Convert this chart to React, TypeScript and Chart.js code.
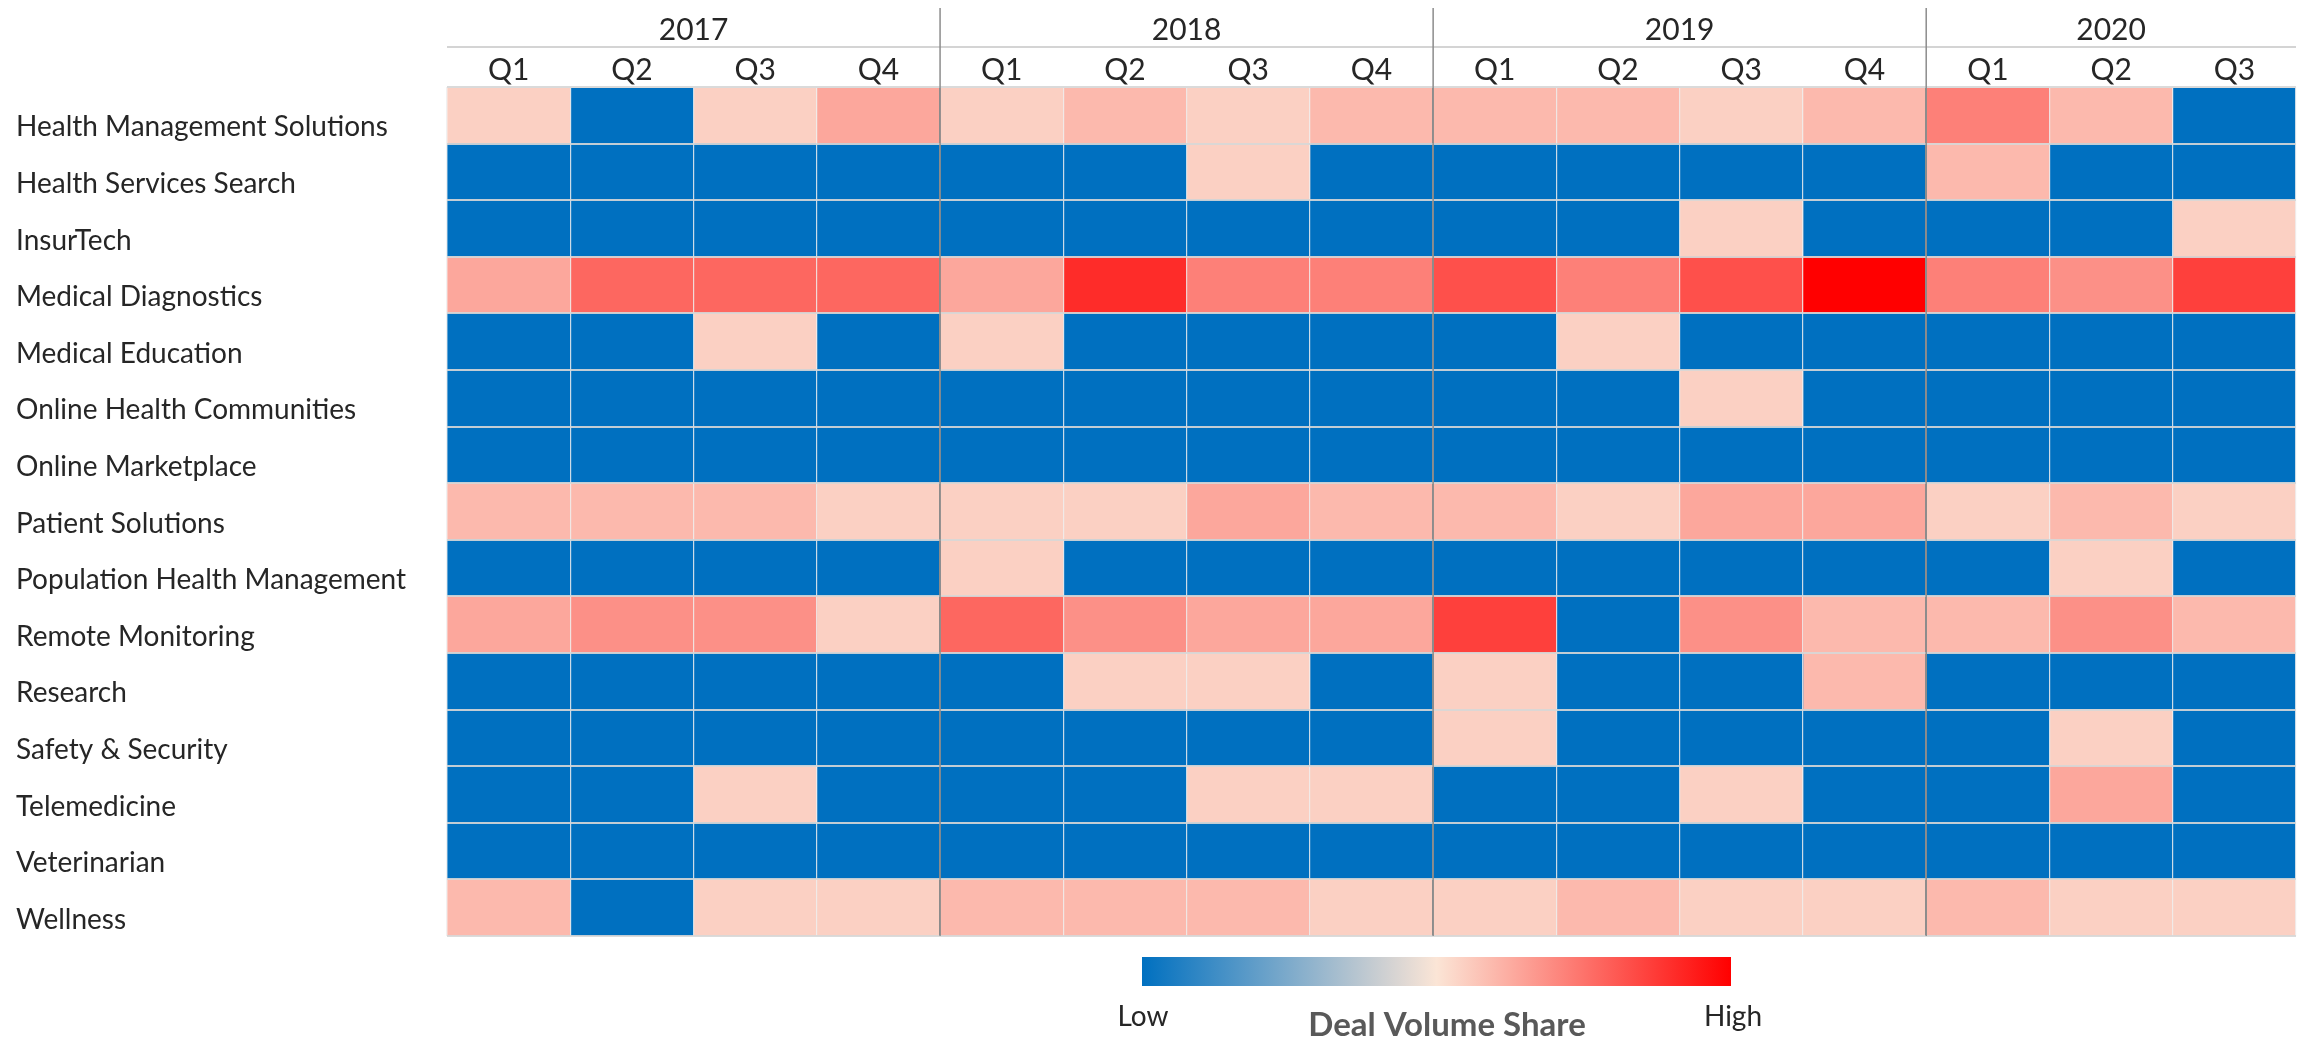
import React, { useEffect, useRef } from 'react';
import { Chart, registerables } from 'chart.js';

Chart.register(...registerables);

// ---------------- data ----------------
const CATEGORIES = [
  'Health Management Solutions',
  'Health Services Search',
  'InsurTech',
  'Medical Diagnostics',
  'Medical Education',
  'Online Health Communities',
  'Online Marketplace',
  'Patient Solutions',
  'Population Health Management',
  'Remote Monitoring',
  'Research',
  'Safety & Security',
  'Telemedicine',
  'Veterinarian',
  'Wellness',
];

const QUARTERS = ['Q1', 'Q2', 'Q3', 'Q4', 'Q1', 'Q2', 'Q3', 'Q4', 'Q1', 'Q2', 'Q3', 'Q4', 'Q1', 'Q2', 'Q3'];
const YEARS = ['2017', '2018', '2019', '2020'];
const QUARTERS_PER_YEAR = [4, 4, 4, 3];

// Deal volume share index (0 = low / none, 100 = highest), one array per category
const healthManagementSolutions = [9, 0, 9, 27, 9, 19, 9, 19, 19, 19, 9, 19, 44, 19, 0];
const healthServicesSearch = [0, 0, 0, 0, 0, 0, 9, 0, 0, 0, 0, 0, 19, 0, 0];
const insurTech = [0, 0, 0, 0, 0, 0, 0, 0, 0, 0, 9, 0, 0, 0, 9];
const medicalDiagnostics = [27, 55, 55, 55, 27, 81, 44, 44, 65, 44, 65, 100, 44, 37, 72];
const medicalEducation = [0, 0, 9, 0, 9, 0, 0, 0, 0, 9, 0, 0, 0, 0, 0];
const onlineHealthCommunities = [0, 0, 0, 0, 0, 0, 0, 0, 0, 0, 9, 0, 0, 0, 0];
const onlineMarketplace = [0, 0, 0, 0, 0, 0, 0, 0, 0, 0, 0, 0, 0, 0, 0];
const patientSolutions = [19, 19, 19, 9, 9, 9, 27, 19, 19, 9, 27, 27, 9, 19, 9];
const populationHealthManagement = [0, 0, 0, 0, 9, 0, 0, 0, 0, 0, 0, 0, 0, 9, 0];
const remoteMonitoring = [27, 37, 37, 9, 55, 37, 27, 27, 72, 0, 37, 19, 19, 37, 19];
const research = [0, 0, 0, 0, 0, 9, 9, 0, 9, 0, 0, 19, 0, 0, 0];
const safetySecurity = [0, 0, 0, 0, 0, 0, 0, 0, 9, 0, 0, 0, 0, 9, 0];
const telemedicine = [0, 0, 9, 0, 0, 0, 9, 9, 0, 0, 9, 0, 0, 27, 0];
const veterinarian = [0, 0, 0, 0, 0, 0, 0, 0, 0, 0, 0, 0, 0, 0, 0];
const wellness = [19, 0, 9, 9, 19, 19, 19, 9, 9, 19, 9, 9, 19, 9, 9];

const VALUES = [
  healthManagementSolutions,
  healthServicesSearch,
  insurTech,
  medicalDiagnostics,
  medicalEducation,
  onlineHealthCommunities,
  onlineMarketplace,
  patientSolutions,
  populationHealthManagement,
  remoteMonitoring,
  research,
  safetySecurity,
  telemedicine,
  veterinarian,
  wellness,
];

const VALUE_MAX = 100;
const LEGEND_TITLE = 'Deal Volume Share';
const LEGEND_LOW = 'Low';
const LEGEND_HIGH = 'High';

// ---------------- colours ----------------
const LOW_RGB = [0, 112, 192];
const MID_RGB = [251, 229, 214];
const HIGH_RGB = [255, 0, 0];

function mix(a: number[], b: number[], t: number) {
  const c = a.map((v, i) => Math.round(v + (b[i] - v) * t));
  return `rgb(${c[0]},${c[1]},${c[2]})`;
}

function cellColor(v: number) {
  if (v <= 0) return mix(LOW_RGB, LOW_RGB, 0);
  return mix(MID_RGB, HIGH_RGB, Math.min(1, v / VALUE_MAX));
}

const FONT = 'Lato, "Open Sans", "DejaVu Sans", sans-serif';
const W = 2305;
const H = 1038;

const isYearBoundary = (v: number) => v % 4 === 0 && v > 0 && v < QUARTERS.length;

const headerPlugin = {
  id: 'header',
  afterDraw(chart: any) {
    const { ctx, chartArea } = chart;
    const x = chart.scales.x;
    ctx.save();
    const left = x.getPixelForValue(0);
    const right = x.getPixelForValue(QUARTERS.length);

    // line under the year row
    ctx.strokeStyle = '#d4d4d4';
    ctx.lineWidth = 2;
    ctx.beginPath();
    ctx.moveTo(left, 47);
    ctx.lineTo(right, 47);
    ctx.stroke();

    // top border of the cells
    ctx.strokeStyle = '#dadada';
    ctx.lineWidth = 2;
    ctx.beginPath();
    ctx.moveTo(left, chartArea.top);
    ctx.lineTo(right, chartArea.top);
    ctx.stroke();

    ctx.fillStyle = '#262626';
    ctx.textAlign = 'center';
    ctx.textBaseline = 'alphabetic';
    ctx.font = `30px ${FONT}`;

    let start = 0;
    YEARS.forEach((yr, k) => {
      const n = QUARTERS_PER_YEAR[k];
      const x0 = x.getPixelForValue(start);
      const x1 = x.getPixelForValue(start + n);
      ctx.fillText(yr, (x0 + x1) / 2, 40);
      if (k > 0) {
        ctx.strokeStyle = '#8c8c8c';
        ctx.lineWidth = 1.5;
        ctx.beginPath();
        ctx.moveTo(x0, 8);
        ctx.lineTo(x0, chartArea.bottom);
        ctx.stroke();
      }
      start += n;
    });

    QUARTERS.forEach((q, i) => {
      ctx.fillText(q, x.getPixelForValue(i + 0.5), 80);
    });

    // colour legend
    const gx0 = 1142;
    const gx1 = 1731;
    const gy0 = 957;
    const gy1 = 986;
    const grad = ctx.createLinearGradient(gx0, 0, gx1, 0);
    grad.addColorStop(0, mix(LOW_RGB, LOW_RGB, 0));
    grad.addColorStop(0.5, mix(MID_RGB, MID_RGB, 0));
    grad.addColorStop(1, mix(HIGH_RGB, HIGH_RGB, 0));
    ctx.fillStyle = grad;
    ctx.fillRect(gx0, gy0, gx1 - gx0, gy1 - gy0);

    ctx.fillStyle = '#262626';
    ctx.font = `28px ${FONT}`;
    ctx.fillText(LEGEND_LOW, 1143, 1026);
    ctx.fillText(LEGEND_HIGH, 1733, 1026);
    ctx.fillStyle = '#595959';
    ctx.font = `bold 33px ${FONT}`;
    ctx.fillText(LEGEND_TITLE, 1447, 1036);
    ctx.restore();
  },
};

export default function App() {
  const ref = useRef<HTMLCanvasElement | null>(null);

  useEffect(() => {
    if (!ref.current) return;
    const datasets = QUARTERS.map((q, i) => ({
      label: `${q}-${i}`,
      data: CATEGORIES.map(() => 1),
      backgroundColor: CATEGORIES.map((_, r) => cellColor(VALUES[r][i])),
      borderWidth: 0,
      barPercentage: 1,
      categoryPercentage: 1,
    }));

    const chart = new Chart(ref.current, {
      type: 'bar',
      data: { labels: CATEGORIES, datasets },
      plugins: [headerPlugin],
      options: {
        indexAxis: 'y',
        responsive: false,
        animation: false,
        devicePixelRatio: 1,
        layout: { padding: { left: 16, right: 9, top: 0, bottom: 102 } },
        plugins: { legend: { display: false }, tooltip: { enabled: false } },
        scales: {
          x: {
            type: 'linear',
            stacked: true,
            position: 'top',
            min: 0,
            max: QUARTERS.length,
            ticks: { display: false, stepSize: 1 },
            grid: {
              z: 1,
              drawTicks: false,
              color: (c: any) => (c.tick && isYearBoundary(c.tick.value) ? '#8c8c8c' : 'rgba(238,238,238,0.85)'),
              lineWidth: (c: any) => (c.tick && isYearBoundary(c.tick.value) ? 1.5 : 1.2),
            },
            border: { display: false },
            afterFit: (s: any) => {
              s.height = 87;
            },
          },
          y: {
            type: 'category',
            stacked: true,
            grid: { z: 1, offset: true, drawTicks: false, color: 'rgba(215,215,215,0.9)', lineWidth: 2 },
            border: { display: false },
            ticks: {
              crossAlign: 'far',
              padding: 0,
              labelOffset: 12,
              color: '#262626',
              font: { family: FONT, size: 28 },
            },
            afterFit: (s: any) => {
              s.width = 431;
            },
          },
        },
      } as any,
    });
    return () => chart.destroy();
  }, []);

  return (
    <div style={{ position: 'fixed', left: 0, top: 0, width: W, height: H, background: '#fff' }}>
      <canvas ref={ref} width={W} height={H} style={{ width: W, height: H, display: 'block' }} />
    </div>
  );
}
